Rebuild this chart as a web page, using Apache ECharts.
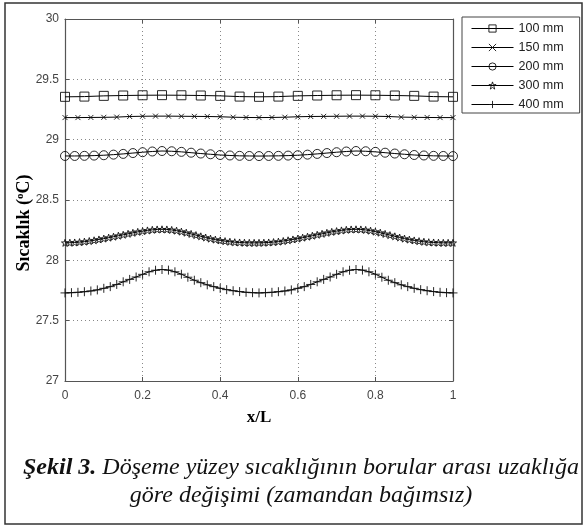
<!DOCTYPE html>
<html>
<head>
<meta charset="utf-8">
<script src="https://cdn.jsdelivr.net/npm/echarts@6/dist/echarts.min.js"></script>
<style>
html,body{margin:0;padding:0;background:#fff;}
#c{width:586px;height:530px;}
</style>
</head>
<body>
<div id="c"></div>
<script>
// ---- data ----
const seriesNames = ['100 mm', '150 mm', '200 mm', '300 mm', '400 mm'];
const xTicks = [0, 0.2, 0.4, 0.6, 0.8, 1];
const yTicks = [27, 27.5, 28, 28.5, 29, 29.5, 30];

// 100 mm, x step 0.05
const t100 = [29.355,29.357,29.363,29.366,29.368,29.369,29.368,29.366,29.363,29.357,29.355,
              29.357,29.363,29.366,29.368,29.369,29.368,29.366,29.363,29.357,29.355];
// 150 mm, x step 1/30
const t150 = [29.183,29.183,29.184,29.185,29.187,29.192,29.194,29.195,29.195,29.194,29.193,29.192,29.190,29.186,29.184,29.183,
              29.184,29.186,29.190,29.192,29.193,29.194,29.195,29.195,29.194,29.192,29.187,29.185,29.184,29.183,29.183];
// 200 mm, x step 0.025
const t200 = [28.865,28.865,28.866,28.868,28.871,28.876,28.882,28.889,28.896,28.902,28.906,28.904,28.899,28.892,28.885,28.879,28.873,28.869,28.866,28.865,28.864,
              28.865,28.866,28.868,28.871,28.876,28.882,28.889,28.896,28.902,28.906,28.904,28.899,28.892,28.885,28.879,28.873,28.869,28.866,28.865,28.864];
// 300 mm, x step 0.0125
const t300 = [28.145,28.146,28.148,28.151,28.155,28.160,28.166,28.173,28.180,28.188,28.196,28.204,28.212,28.220,28.228,28.236,28.242,28.248,28.253,28.256,
              28.257,28.256,28.252,28.246,28.238,28.229,28.219,28.209,28.199,28.189,28.180,28.172,28.165,28.159,28.154,28.150,28.148,28.146,28.145,28.145,28.145,
              28.146,28.148,28.151,28.155,28.160,28.166,28.173,28.180,28.188,28.196,28.204,28.212,28.220,28.228,28.236,28.242,28.248,28.253,28.256,
              28.257,28.256,28.252,28.246,28.238,28.229,28.219,28.209,28.199,28.189,28.180,28.172,28.165,28.159,28.154,28.150,28.148,28.146,28.145,28.145,28.145];
// 400 mm, x step 1/60
const t400 = [27.730,27.732,27.735,27.740,27.746,27.755,27.768,27.782,27.800,27.822,27.842,27.862,27.884,27.905,27.918,
              27.924,27.919,27.905,27.885,27.860,27.835,27.815,27.797,27.782,27.768,27.757,27.748,27.741,27.735,27.732,27.730,
              27.732,27.735,27.740,27.746,27.755,27.768,27.782,27.800,27.822,27.842,27.862,27.884,27.905,27.918,
              27.924,27.919,27.905,27.885,27.860,27.835,27.815,27.797,27.782,27.768,27.757,27.748,27.741,27.735,27.732,27.730];

function pairs(vals){ const n = vals.length - 1; return vals.map((v,i)=>[i/n, v]); }

const SYM_X = 'path://M0,0L10,10M0,10L10,0';
const SYM_PLUS = 'path://M5,0L5,10M0,5L10,5';
const SYM_STAR = 'path://M5,0L6.2,3.6L10,3.6L6.9,5.9L8.1,9.5L5,7.3L1.9,9.5L3.1,5.9L0,3.6L3.8,3.6Z';

function mk(name, vals, symbol, size){
  return {
    name, type:'line', data: pairs(vals), symbol, symbolSize: size,
    showSymbol:true, showAllSymbol:true, animation:false,
    lineStyle:{color:'#000', width:1},
    itemStyle:{color:'rgba(0,0,0,0)', borderColor:'#111', borderWidth:0.9},
    emphasis:{disabled:true}
  };
}

const axisCol = '#555';
const serif = 'Liberation Serif, Times New Roman, serif';
const chart = echarts.init(document.getElementById('c'), null, {renderer:'canvas'});
chart.setOption({
  backgroundColor:'#fff',
  animation:false,
  grid:{left:65, right:133, top:19, bottom:149},
  legend:{
    orient:'vertical', left:462, top:17,
    data: seriesNames,
    itemWidth:42, itemHeight:9, itemGap:6,
    padding:[5,16,2,9],
    borderColor:'#444', borderWidth:1, backgroundColor:'#fff',
    itemStyle:{color:'rgba(0,0,0,0)', borderColor:'#111', borderWidth:0.9},
    lineStyle:{color:'#000', width:1},
    textStyle:{fontFamily:'Liberation Sans, Arial', fontSize:12.5, color:'#222', lineHeight:13},
    selectedMode:false
  },
  xAxis:[{
    type:'value', min:0, max:1, interval:0.2,
    name:'x/L', nameLocation:'middle', nameGap:28,
    nameTextStyle:{fontFamily:serif, fontWeight:'bold', fontSize:17, color:'#000'},
    axisLine:{lineStyle:{color:axisCol, width:1.2}},
    axisTick:{inside:true, length:4, lineStyle:{color:axisCol}},
    axisLabel:{color:'#444', fontFamily:'Liberation Sans, Arial', fontSize:12, margin:9,
      formatter: v => xTicks.indexOf(v) >= 0 ? String(v) : ''},
    splitLine:{show:true, lineStyle:{color:'#888', type:[1,3], width:1}}
  },{
    type:'value', min:0, max:1, interval:0.2, position:'top',
    axisLine:{show:true, onZero:false, lineStyle:{color:axisCol, width:1.2}},
    axisTick:{show:true, inside:true, length:4, lineStyle:{color:axisCol}},
    axisLabel:{show:false}, splitLine:{show:false}
  }],
  yAxis:[{
    type:'value', min:27, max:30, interval:0.5,
    name:'{t|Sıcaklık (}{s|o}{t|C)}', nameLocation:'middle', nameGap:31, nameMoveOverlap:false,
    nameTextStyle:{padding:[0,46,0,0], rich:{
      t:{fontFamily:serif, fontWeight:'bold', fontSize:18, color:'#000'},
      s:{fontFamily:serif, fontWeight:'bold', fontSize:11, color:'#000', verticalAlign:'top', padding:[0,0,8,0]}
    }},
    axisLine:{show:true, lineStyle:{color:axisCol, width:1.2}},
    axisTick:{show:true, inside:true, length:4, lineStyle:{color:axisCol}},
    axisLabel:{color:'#444', fontFamily:'Liberation Sans, Arial', fontSize:12, margin:6,
      formatter: v => yTicks.indexOf(v) >= 0 ? String(v) : ''},
    splitLine:{show:true, lineStyle:{color:'#888', type:[1,3], width:1}}
  },{
    type:'value', min:27, max:30, interval:0.5, position:'right',
    axisLine:{show:true, onZero:false, lineStyle:{color:axisCol, width:1.2}},
    axisTick:{show:true, inside:true, length:4, lineStyle:{color:axisCol}},
    axisLabel:{show:false}, splitLine:{show:false}
  }],
  series:[
    mk(seriesNames[0], t100, 'rect', 9),
    mk(seriesNames[1], t150, SYM_X, 5),
    mk(seriesNames[2], t200, 'circle', 9),
    mk(seriesNames[3], t300, SYM_STAR, 7),
    mk(seriesNames[4], t400, SYM_PLUS, 9)
  ],
  graphic:[
    {type:'rect', shape:{x:5, y:3, width:577, height:521}, style:{fill:'none', stroke:'#333', lineWidth:1.5}, silent:true},
    {type:'text', x:301, y:468, style:{
      text:'{b|Şekil 3.}{i| Döşeme yüzey sıcaklığının borular arası uzaklığa}',
      align:'center', verticalAlign:'middle',
      rich:{
        b:{fontFamily:serif, fontStyle:'italic', fontWeight:'bold', fontSize:24, fill:'#111'},
        i:{fontFamily:serif, fontStyle:'italic', fontSize:24, fill:'#111'}
      }}},
    {type:'text', x:301, y:496, style:{
      text:'göre değişimi (zamandan bağımsız)', align:'center', verticalAlign:'middle',
      fontFamily:serif, fontStyle:'italic', fontSize:24, fill:'#111'}}
  ]
});
</script>
</body>
</html>
